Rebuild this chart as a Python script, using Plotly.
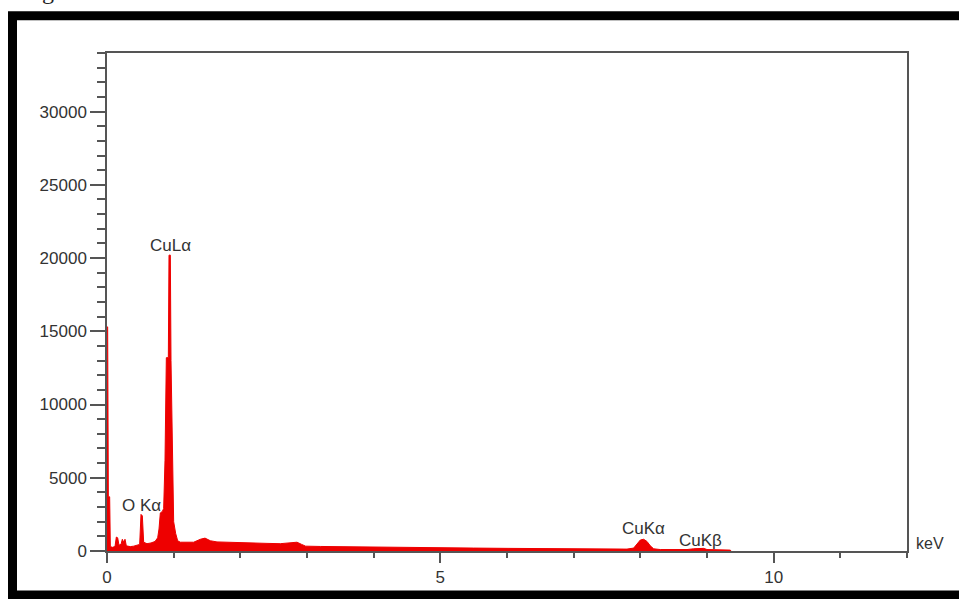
import plotly.graph_objects as go

# EDS spectrum (energy in keV, counts)
energy_kev = [0.00, 0.01, 0.02, 0.04, 0.05, 0.08, 0.12, 0.14, 0.16, 0.18, 0.21, 0.23, 0.25, 0.27,
              0.29, 0.35, 0.40, 0.45, 0.49, 0.51, 0.53, 0.55, 0.60, 0.66, 0.72, 0.76, 0.78, 0.80,
              0.83, 0.85, 0.87, 0.89, 0.92, 0.93, 0.95, 0.96, 0.98, 1.00, 1.03, 1.06, 1.10, 1.20,
              1.30, 1.40, 1.47, 1.55, 1.65, 1.80, 2.00, 2.20, 2.40, 2.60, 2.75, 2.85, 2.92, 2.98,
              3.20, 3.50, 4.00, 4.50, 5.00, 5.50, 6.00, 6.50, 7.00, 7.50, 7.80, 7.90, 7.95, 8.00,
              8.05, 8.10, 8.15, 8.20, 8.30, 8.50, 8.70, 8.80, 8.90, 8.95, 9.00, 9.20, 9.35, 9.36]
counts = [15300, 15300, 3700, 3700, 300, 250, 300, 950, 900, 400, 450, 800, 600, 800,
          350, 300, 330, 380, 450, 2500, 2400, 600, 500, 550, 650, 900, 1500, 2600,
          2700, 2900, 6200, 13200, 13200, 20200, 20200, 13000, 6200, 2000, 1200, 700, 600, 580,
          600, 800, 880, 700, 620, 600, 560, 540, 520, 500, 560, 600, 450, 330,
          310, 290, 260, 240, 220, 200, 180, 160, 140, 120, 130, 200, 450, 750,
          800, 650, 350, 150, 100, 90, 100, 150, 200, 180, 100, 70, 60, 0]

peak_labels = ["CuLα", "O Kα", "CuKα", "CuKβ"]
peak_label_x = [0.945, 0.51, 8.04, 8.895]
peak_label_y = [20825, 3110, 1555, 744]

x_ticks = [0, 5, 10]
y_ticks = [0, 5000, 10000, 15000, 20000, 25000, 30000]

L, R, T, B = 107, 52, 53, 43
W, H = 959, 599
pw, ph = W - L - R, H - T - B


def px(x):
    return (x - L) / pw


def py(y):
    return (H - B - y) / ph


fig = go.Figure()
fig.add_trace(go.Scatter(
    x=energy_kev, y=counts, mode="lines", fill="tozeroy",
    line=dict(color="#ee0000", width=1), fillcolor="#ee0000",
    hoverinfo="x+y", showlegend=False))

font = dict(family="Liberation Sans, Arial, sans-serif", size=17, color="#333333")

annotations = []
for t, xv, yv in zip(peak_labels, peak_label_x, peak_label_y):
    annotations.append(dict(x=xv, y=yv, xref="x", yref="y", text=t, showarrow=False,
                            font=font, xanchor="center", yanchor="middle"))
annotations.append(dict(x=px(914), y=py(548), xref="paper", yref="paper", text="keV",
                        showarrow=False, font=dict(family=font["family"], size=16, color="#333333"),
                        xanchor="left", yanchor="middle"))
annotations.append(dict(x=px(48), y=py(-10), xref="paper", yref="paper", text="g",
                        showarrow=False,
                        font=dict(family="Liberation Serif, serif", size=24, color="#222222"),
                        xanchor="center", yanchor="middle"))

shapes = [dict(type="rect", xref="paper", yref="paper",
               x0=px(12.5), x1=px(990), y0=py(15.5), y1=py(600.5),
               line=dict(color="black", width=9), fillcolor="rgba(0,0,0,0)", layer="below")]

fig.update_layout(
    width=W, height=H,
    margin=dict(l=L, r=R, t=T, b=B, pad=0),
    paper_bgcolor="white", plot_bgcolor="white",
    font=font,
    annotations=annotations, shapes=shapes,
    xaxis=dict(range=[0, 12], tickvals=x_ticks, ticktext=[str(v) for v in x_ticks],
               ticks="outside", ticklen=10, tickwidth=1.5, tickcolor="#555555",
               showline=True, linecolor="#555555", linewidth=1.5, mirror=True,
               showgrid=False, zeroline=False,
               minor=dict(dtick=1, tick0=0, ticks="outside", ticklen=5, tickwidth=1.5,
                          tickcolor="#555555", showgrid=False),
               tickfont=font),
    yaxis=dict(range=[0, 34000], tickvals=y_ticks, ticktext=[str(v) for v in y_ticks],
               ticks="outside", ticklen=15, tickwidth=1.5, tickcolor="#555555",
               showline=True, linecolor="#555555", linewidth=1.5, mirror=True,
               showgrid=False, zeroline=False,
               minor=dict(dtick=1000, tick0=0, ticks="outside", ticklen=8, tickwidth=1.5,
                          tickcolor="#555555", showgrid=False),
               tickfont=font),
)

fig.write_html("out.html", config={"displayModeBar": False},
               post_script="document.body.style.margin='0';")
